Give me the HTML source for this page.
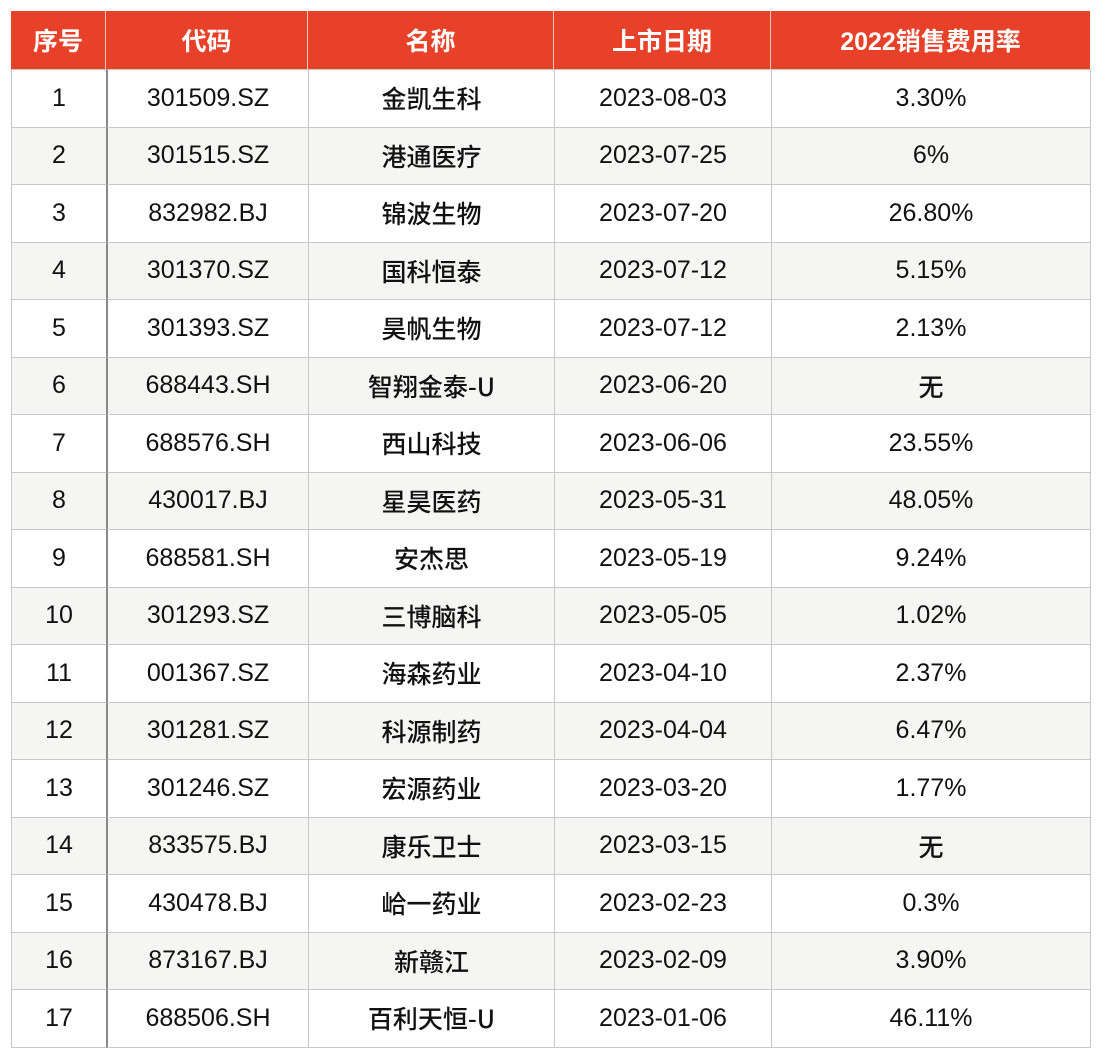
<!DOCTYPE html>
<html><head><meta charset="utf-8">
<style>
body{margin:0;background:#fff;width:1102px;height:1056px;position:relative;overflow:hidden;font-family:"Liberation Sans","Noto Sans CJK SC",sans-serif;}
.c{position:absolute;display:flex;align-items:center;justify-content:center;box-sizing:border-box;font-size:25px;color:#111;}
.h{background:#E8412A;color:#fff;font-family:"Liberation Sans","Noto Sans CJK SC",sans-serif;font-weight:bold;font-size:25px;border-right:1.5px solid #f4c6bd;}
.cn{font-family:"Noto Sans CJK SC",sans-serif;font-weight:500;font-size:25px;}
</style></head><body>
<div id="t"></div>
<script>
const headers=["序号","代码","名称","上市日期","2022销售费用率"];
const codes=["301509.SZ","301515.SZ","832982.BJ","301370.SZ","301393.SZ","688443.SH","688576.SH","430017.BJ","688581.SH","301293.SZ","001367.SZ","301281.SZ","301246.SZ","833575.BJ","430478.BJ","873167.BJ","688506.SH"];
const names=["金凯生科","港通医疗","锦波生物","国科恒泰","昊帆生物","智翔金泰-U","西山科技","星昊医药","安杰思","三博脑科","海森药业","科源制药","宏源药业","康乐卫士","峆一药业","新赣江","百利天恒-U"];
const dates=["2023-08-03","2023-07-25","2023-07-20","2023-07-12","2023-07-12","2023-06-20","2023-06-06","2023-05-31","2023-05-19","2023-05-05","2023-04-10","2023-04-04","2023-03-20","2023-03-15","2023-02-23","2023-02-09","2023-01-06"];
const rates=["3.30%","6%","26.80%","5.15%","2.13%","无","23.55%","48.05%","9.24%","1.02%","2.37%","6.47%","1.77%","无","0.3%","3.90%","46.11%"];
const xs=[11,106,308,554,771,1090];
const top0=11,hh=58,rh=57.5;
const t=document.getElementById('t');
const hn=['header-index','header-code','header-name','header-date','header-sales-rate'];
headers.forEach((h,i)=>{
 const d=document.createElement('div');
 d.className='c h';
 
 
 d.style.cssText=`left:${xs[i]}px;top:${top0}px;width:${xs[i+1]-xs[i]}px;height:${hh}px;`+(i==4?'border-right:none;':'');
 d.textContent=h;t.appendChild(d);
});
const cn=['cell-index','cell-code','cell-name','cell-date','cell-rate'];
codes.forEach((c,r)=>{
 const vals=[String(r+1),c,names[r],dates[r],rates[r]];
 const y=top0+hh+r*rh;
 vals.forEach((v,i)=>{
  const d=document.createElement('div');
  d.className='c'+(i==2||v=='无'?' cn':'');
  
  
  d.style.cssText=`left:${xs[i]}px;top:${y}px;width:${xs[i+1]-xs[i]+1}px;height:${rh+1}px;border:1.5px solid #c8c8c8;background:${r%2?'#f5f5f4':'#fff'};`+(i==1?'border-left:2px solid #888;':'');
  d.textContent=v;t.appendChild(d);
 });
});
</script>
</body></html>
